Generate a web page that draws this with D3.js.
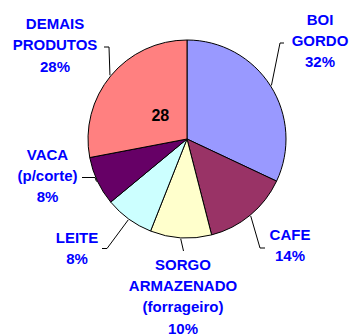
<!DOCTYPE html>
<html>
<head>
<meta charset="utf-8">
<script src="https://cdn.jsdelivr.net/npm/d3@7"></script>
<style>
  html, body { margin: 0; padding: 0; background: #fff; }
  svg { display: block; }
  text { font-family: "Liberation Sans", Arial, sans-serif; font-weight: bold; }
</style>
</head>
<body>
<svg id="chart" width="355" height="336"></svg>
<script>
// Categories (label lines), shares in %, slice colours
const categories = [
  ["BOI", "GORDO"],
  ["CAFE"],
  ["SORGO", "ARMAZENADO", "(forrageiro)"],
  ["LEITE"],
  ["VACA", "(p/corte)"],
  ["DEMAIS", "PRODUTOS"]
];
const values = [32, 14, 10, 8, 8, 28];
const colors = ["#9999FF", "#993366", "#FFFFCC", "#CCFFFF", "#660066", "#FF8080"];

// Value shown inside the pie (for the last slice)
const insideLabelIndex = 5;

// Label layout: text block centre x, first baseline, leader elbow, leader end
const labelLayout = [
  { cx: 320, y0: 24.5, elbow: [280, 43], end: [284, 43] },
  { cx: 290, y0: 240, elbow: [260, 248], end: [265, 248] },
  { cx: 183, y0: 269.5, elbow: [183.5, 251], end: [183.5, 251] },
  { cx: 77, y0: 242.5, elbow: [107, 248.5], end: [102, 248.5] },
  { cx: 47.5, y0: 159.5, elbow: [95, 177.5], end: [82, 177.5] },
  { cx: 55, y0: 29, elbow: [109, 47], end: [104, 47] }
];

const W = 355, H = 336;
const cx = 187, cy = 139, R = 99;
const lineH = 21.4;

const svg = d3.select("#chart");
const g = svg.append("g").attr("transform", `translate(${cx},${cy})`);

const pie = d3.pie().sort(null).value(d => d).startAngle(0).endAngle(2 * Math.PI);
const arcs = pie(values);
const arc = d3.arc().innerRadius(0).outerRadius(R);

g.selectAll("path.slice")
  .data(arcs)
  .join("path")
  .attr("class", "slice")
  .attr("d", arc)
  .attr("fill", (d, i) => colors[i])
  .attr("stroke", "#000")
  .attr("stroke-width", 1);

// Leader lines from the slice rim to the labels
const edgeArc = d3.arc().innerRadius(R + 1).outerRadius(R + 1);
arcs.forEach((d, i) => {
  const [ex, ey] = edgeArc.centroid(d);
  const L = labelLayout[i];
  const pts = [[cx + ex, cy + ey], L.elbow, L.end];
  svg.append("path")
    .attr("d", d3.line()(pts))
    .attr("fill", "none")
    .attr("stroke", "#000")
    .attr("stroke-width", 1);
});

// Category labels with percentages
arcs.forEach((d, i) => {
  const L = labelLayout[i];
  const lines = categories[i].concat([values[i] + "%"]);
  const t = svg.append("text")
    .attr("text-anchor", "middle")
    .attr("fill", "#0000FF")
    .style("font-size", "15px");
  lines.forEach((s, k) => {
    t.append("tspan")
      .attr("x", L.cx)
      .attr("y", L.y0 + k * lineH)
      .text(s);
  });
});

// Value label inside the pie
const ia = arcs[insideLabelIndex];
const insideArc = d3.arc().innerRadius(R * 0.35).outerRadius(R * 0.35);
const [ix, iy] = insideArc.centroid(ia);
svg.append("text")
  .attr("x", cx + ix)
  .attr("y", cy + iy)
  .attr("dy", "0.25em")
  .attr("text-anchor", "middle")
  .attr("fill", "#000")
  .style("font-size", "16px")
  .text(values[insideLabelIndex]);
</script>
</body>
</html>
